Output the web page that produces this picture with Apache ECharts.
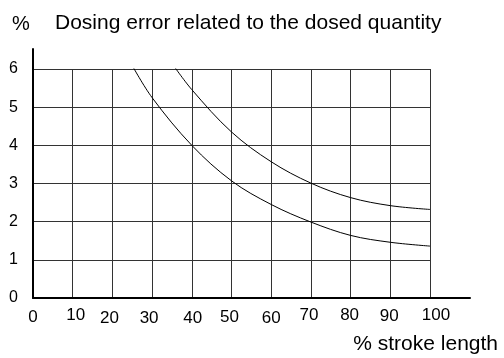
<!DOCTYPE html>
<html>
<head>
<meta charset="utf-8">
<script src="https://cdn.jsdelivr.net/npm/echarts@6/dist/echarts.min.js"></script>
<style>
  html, body { margin: 0; padding: 0; background: #fff; }
  #chart { width: 504px; height: 358px; }
</style>
</head>
<body>
<div id="chart"></div>
<script>
// Dosing error (%) against stroke length (%), two characteristic curves
const strokeTicks = [0, 10, 20, 30, 40, 50, 60, 70, 80, 90, 100];
const errorTicks = [0, 1, 2, 3, 4, 5, 6];

const upperStroke = [35, 40, 50, 60, 70, 80, 90, 100];
const upperError  = [6.15, 5.46, 4.35, 3.57, 3.01, 2.63, 2.42, 2.32];

const lowerStroke = [25, 30, 40, 50, 60, 70, 80, 90, 100];
const lowerError  = [6.09, 5.25, 4.0, 3.07, 2.45, 1.99, 1.64, 1.46, 1.36];

const FONT = 'Liberation Sans, Arial, Helvetica, sans-serif';

const pairs = (xs, ys) => xs.map((x, i) => [x, ys[i]]);

// hand-lettered look of the stroke-length labels: small per-label nudges
// [dx, dy] in pixels, applied through rich-text padding
const nudge = {
  0: [0, 2], 10: [3, 0], 20: [-3, 3], 30: [-3, 3], 40: [1, 3], 50: [-2, 2],
  60: [0, 3], 70: [-2, 0], 80: [-1, 0], 90: [-1, 1], 100: [6, 0]
};
const tickRich = {};
strokeTicks.forEach(v => {
  const [dx, dy] = nudge[v];
  tickRich['t' + v] = {
    fontFamily: FONT, fontSize: 17, color: '#000',
    padding: [dy, dx < 0 ? -2 * dx : 0, 0, dx > 0 ? 2 * dx : 0]
  };
});

const chart = echarts.init(document.getElementById('chart'), null, { renderer: 'canvas' });

const titleStyle = { fontFamily: FONT, fontSize: 21, fontWeight: 'normal', color: '#000' };

chart.setOption({
  animation: false,
  backgroundColor: '#ffffff',
  textStyle: { fontFamily: FONT },
  title: [
    { text: '%', left: 7, top: 9, textStyle: Object.assign({}, titleStyle, { fontSize: 20 }) },
    { text: 'Dosing error related to the dosed quantity', left: 50, top: 8, textStyle: titleStyle },
    { text: '% stroke length', right: 1, top: 329, textStyle: titleStyle }
  ],
  grid: [
    // plotting area with the grid lines
    { left: 33, top: 69, width: 397, bottom: 60, containLabel: false },
    // frame carrying the long axis lines
    { left: 33, top: 49, right: 34, bottom: 60, containLabel: false }
  ],
  xAxis: [
    {
      gridIndex: 0, type: 'value', min: 0, max: 100, interval: 10,
      axisLine: { show: false }, axisTick: { show: false },
      splitLine: { show: true, lineStyle: { color: '#333', width: 1 } },
      axisLabel: {
        fontFamily: FONT, fontSize: 17, color: '#000', margin: 9,
        formatter: v => strokeTicks.includes(v) ? '{t' + v + '|' + v + '}' : '',
        rich: tickRich
      }
    },
    {
      gridIndex: 1, type: 'value', min: 0, max: 1,
      axisLine: { show: true, onZero: false, lineStyle: { color: '#000', width: 2 } },
      axisTick: { show: false }, axisLabel: { show: false }, splitLine: { show: false }
    }
  ],
  yAxis: [
    {
      gridIndex: 0, type: 'value', min: 0, max: 6, interval: 1,
      axisLine: { show: false }, axisTick: { show: false },
      splitLine: { show: true, lineStyle: { color: '#333', width: 1 } },
      axisLabel: {
        fontFamily: FONT, fontSize: 16, color: '#000', margin: 15,
        formatter: v => errorTicks.includes(v) ? String(v) : ''
      }
    },
    {
      gridIndex: 1, type: 'value', min: 0, max: 1,
      axisLine: { show: true, onZero: false, lineStyle: { color: '#000', width: 2 } },
      axisTick: { show: false }, axisLabel: { show: false }, splitLine: { show: false }
    }
  ],
  series: [
    {
      type: 'line', xAxisIndex: 0, yAxisIndex: 0,
      data: pairs(upperStroke, upperError),
      smooth: 0.35, symbol: 'none',
      lineStyle: { color: '#000', width: 1 }
    },
    {
      type: 'line', xAxisIndex: 0, yAxisIndex: 0,
      data: pairs(lowerStroke, lowerError),
      smooth: 0.35, symbol: 'none',
      lineStyle: { color: '#000', width: 1 }
    }
  ]
});
</script>
</body>
</html>
